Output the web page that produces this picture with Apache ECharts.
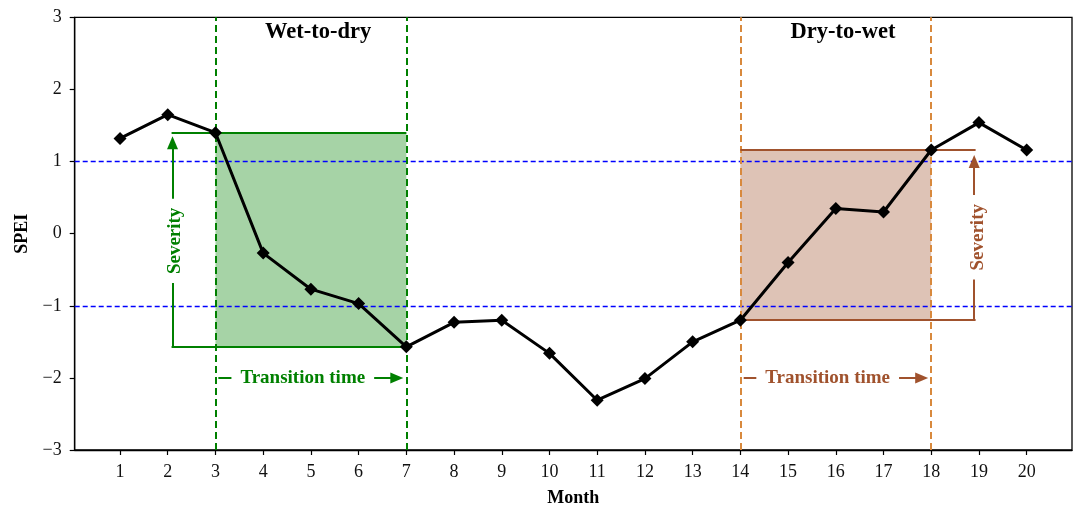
<!DOCTYPE html>
<html>
<head>
<meta charset="utf-8">
<script src="https://cdn.jsdelivr.net/npm/echarts@6/dist/echarts.min.js"></script>
<style>html,body{margin:0;padding:0;background:#fff;}#c{width:1076px;height:505px;}</style>
</head>
<body>
<div id="c"></div>
<script>
// ---- data ----
const months = [1,2,3,4,5,6,7,8,9,10,11,12,13,14,15,16,17,18,19,20];
const spei = [1.32,1.65,1.40,-0.27,-0.77,-0.97,-1.57,-1.23,-1.20,-1.66,-2.31,-2.01,-1.50,-1.20,-0.40,0.35,0.30,1.16,1.54,1.16];
const yTicks = [-3,-2,-1,0,1,2,3];
const thresholds = [1,-1];
// wet-to-dry event
const wetDryStartEnd = [3,7];
const wetDryRange = [-1.565,1.40];
// dry-to-wet event
const dryWetStartEnd = [14,18];
const dryWetRange = [-1.20,1.16];
// severity bracket x positions
const sevGreenX = [2.08, 2.1];
const sevBrownX = [18.93, 18.9];
const transY = -2;
const eventTitles = ['Wet-to-dry','Dry-to-wet'];
const titlePos = [[5.15,2.8],[16.15,2.8]];
const sevLabelPos = [[2.15,-0.10],[18.98,-0.05]];
const transLabelPos = [[4.83,-2],[15.83,-2]];

const FONT = '"Liberation Serif","Times New Roman",serif';
const GREEN = '#008000';
const SIENNA = '#A0522D';
const PERU = '#d8893d';

const chart = echarts.init(document.getElementById('c'), null, {renderer:'canvas'});

function seg(x1,y1,x2,y2,color,width,endSym){
  return [{coord:[x1,y1], symbol:'none', lineStyle:{color:color,width:width,type:'solid'}},
          {coord:[x2,y2], symbol: endSym ? 'triangle' : 'none', symbolSize:[11,13]}];
}

const option = {
  animation:false,
  grid:{left:74.7, right:4, top:17.3, bottom:55, containLabel:false, outerBoundsMode:'none',
        show:true, borderColor:'#000', borderWidth:1.3, backgroundColor:'transparent'},
  xAxis:{
    type:'value', min:0.05, max:20.95,
    axisLine:{show:true, onZero:false, lineStyle:{color:'#000', width:1.3}},
    axisTick:{show:true, customValues:months, length:5, lineStyle:{color:'#000', width:1.2}},
    axisLabel:{show:true, customValues:months, fontSize:18, fontFamily:FONT, color:'#111', margin:13},
    splitLine:{show:false},
    name:'Month', nameLocation:'middle', nameGap:39,
    nameTextStyle:{fontFamily:FONT, fontWeight:'bold', fontSize:18, color:'#000'}
  },
  yAxis:{
    type:'value', min:yTicks[0], max:yTicks[yTicks.length-1], interval:1,
    axisLine:{show:true, onZero:false, lineStyle:{color:'#000', width:1.3}},
    axisTick:{show:true, length:5, lineStyle:{color:'#000', width:1.2}},
    axisLabel:{fontSize:18, fontFamily:FONT, color:'#111', margin:13,
      formatter:v => String(v).replace('-', '\u2212')},
    splitLine:{show:false},
    name:'SPEI', nameLocation:'middle', nameGap:40, nameRotate:90,
    nameTextStyle:{fontFamily:FONT, fontWeight:'bold', fontSize:18, color:'#000'}
  },
  series:[
    { // shaded areas
      type:'line', data:[], z:1, silent:true,
      markArea:{silent:true, data:[
        [{coord:[wetDryStartEnd[0], wetDryRange[0]], itemStyle:{color:'rgba(0,128,0,0.35)'}},{coord:[wetDryStartEnd[1], wetDryRange[1]]}],
        [{coord:[dryWetStartEnd[0], dryWetRange[0]], itemStyle:{color:'rgba(160,82,45,0.35)'}},{coord:[dryWetStartEnd[1], dryWetRange[1]]}]
      ]}
    },
    { // reference dashed lines
      type:'line', data:[], z:2, silent:true,
      markLine:{silent:true, symbol:'none', label:{show:false}, animation:false, data:[
        {yAxis:thresholds[0], lineStyle:{color:'#0000ff', width:1.3, type:[5,3]}},
        {yAxis:thresholds[1], lineStyle:{color:'#0000ff', width:1.3, type:[5,3]}},
        {xAxis:wetDryStartEnd[0], lineStyle:{color:GREEN, width:2, type:[7,4]}},
        {xAxis:wetDryStartEnd[1], lineStyle:{color:GREEN, width:2, type:[7,4]}},
        {xAxis:dryWetStartEnd[0], lineStyle:{color:PERU, width:2, type:[7,4]}},
        {xAxis:dryWetStartEnd[1], lineStyle:{color:PERU, width:2, type:[7,4]}}
      ]}
    },
    { // severity brackets and transition arrows
      type:'line', data:[], z:3, silent:true,
      markLine:{silent:true, label:{show:false}, animation:false, symbolSize:[11,13], data:[
        seg(sevGreenX[0], wetDryRange[1], wetDryStartEnd[1], wetDryRange[1], GREEN, 2, false),
        seg(sevGreenX[0], wetDryRange[0], wetDryStartEnd[1], wetDryRange[0], GREEN, 2, false),
        seg(sevGreenX[1], wetDryRange[0], sevGreenX[1], wetDryRange[1]-0.14, GREEN, 2, true),
        seg(dryWetStartEnd[0], dryWetRange[1], sevBrownX[0], dryWetRange[1], SIENNA, 2, false),
        seg(dryWetStartEnd[0], dryWetRange[0], sevBrownX[0], dryWetRange[0], SIENNA, 2, false),
        seg(sevBrownX[1], dryWetRange[0], sevBrownX[1], dryWetRange[1]-0.16, SIENNA, 2, true),
        seg(wetDryStartEnd[0]+0.06, transY, wetDryStartEnd[1]-0.2, transY, GREEN, 2, true),
        seg(dryWetStartEnd[0]+0.07, transY, dryWetStartEnd[1]-0.2, transY, SIENNA, 2, true)
      ]}
    },
    { // text annotations
      type:'scatter', z:5, silent:true, symbolSize:0,
      itemStyle:{opacity:1},
      data:[
        {value:titlePos[0], label:{formatter:eventTitles[0], color:'#000', fontSize:22.5, fontWeight:'bold'}},
        {value:titlePos[1], label:{formatter:eventTitles[1], color:'#000', fontSize:22.5, fontWeight:'bold'}},
        {value:sevLabelPos[0], label:{formatter:'Severity', color:GREEN, rotate:90, backgroundColor:'#fff', padding:[2,9]}},
        {value:sevLabelPos[1], label:{formatter:'Severity', color:SIENNA, rotate:90, backgroundColor:'#fff', padding:[2,9]}},
        {value:transLabelPos[0], label:{formatter:'Transition time', color:GREEN, backgroundColor:'#fff', padding:[2,9]}},
        {value:transLabelPos[1], label:{formatter:'Transition time', color:SIENNA, backgroundColor:'#fff', padding:[2,9]}}
      ],
      label:{show:true, position:'inside', opacity:1, fontFamily:FONT, fontSize:19, fontWeight:'bold', textBorderWidth:0}
    },
    { // SPEI line
      type:'line', z:10, name:'SPEI',
      data: months.map((m,i)=>[m, spei[i]]),
      symbol:'diamond', symbolSize:13, showAllSymbol:true,
      lineStyle:{color:'#000', width:3},
      itemStyle:{color:'#000', borderWidth:0}
    }
  ]
};
chart.setOption(option);
</script>
</body>
</html>
